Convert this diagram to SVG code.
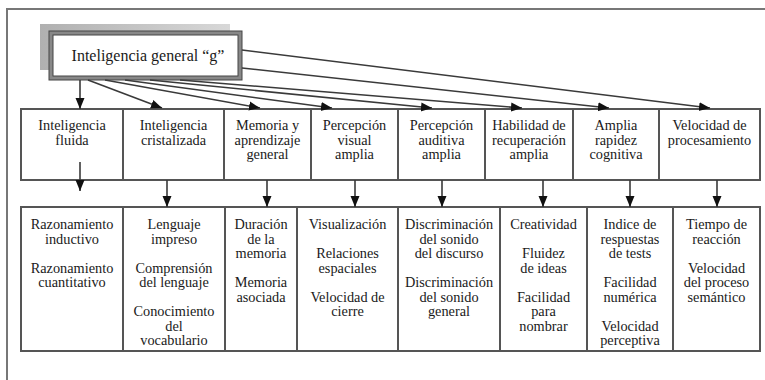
<svg xmlns="http://www.w3.org/2000/svg" width="765" height="380" viewBox="0 0 765 380">
<style>
text{font-family:"Liberation Serif","DejaVu Serif",serif;font-size:14.3px;fill:#1a1a1a;text-anchor:middle}
.g{font-size:16px}
.box{fill:#fff;stroke:#555;stroke-width:2}
.con{stroke:#3a3a3a;stroke-width:1.6;fill:none;marker-end:url(#ah)}
.frame{stroke:#777;stroke-width:2;fill:none}
</style>
<defs>
<marker id="ah" markerUnits="userSpaceOnUse" markerWidth="12" markerHeight="12" viewBox="0 0 12 12" refX="11" refY="6" orient="auto">
<path d="M0,1.5 L11,6 L0,10.5 Z" fill="#111"/>
</marker>
<linearGradient id="sh" x1="0" y1="0" x2="1" y2="0">
<stop offset="0" stop-color="#b0b0b0"/>
<stop offset="1" stop-color="#d8d8d8"/>
</linearGradient>
</defs>
<rect width="765" height="380" fill="#fff"/>
<path class="frame" d="M7,380 V9 H765"/>

<g id="g-node">
<rect x="40" y="24" width="190" height="46" fill="url(#sh)"/>
<rect x="51" y="33" width="189" height="45" fill="#fff" stroke="#888" stroke-width="4"/>
<rect x="49" y="31" width="193" height="49" fill="none" stroke="#444" stroke-width="1"/>
<rect x="53" y="35" width="185" height="41" fill="none" stroke="#444" stroke-width="1"/>
<text class="g" x="148" y="61" font-family="Liberation Serif, serif">Inteligencia general “g”</text>
</g>

<g id="m1"><rect class="box" x="21" y="109" width="102" height="71"/><text x="72" y="130">Inteligencia</text><text x="72" y="144.5">fluida</text></g>
<g id="m2"><rect class="box" x="123" y="109" width="101" height="71"/><text x="173.5" y="130">Inteligencia</text><text x="173.5" y="144.5">cristalizada</text></g>
<g id="m3"><rect class="box" x="224" y="109" width="87" height="71"/><text x="267.5" y="130">Memoria y</text><text x="267.5" y="144.5">aprendizaje</text><text x="267.5" y="159">general</text></g>
<g id="m4"><rect class="box" x="311" y="109" width="87" height="71"/><text x="354.5" y="130">Percepción</text><text x="354.5" y="144.5">visual</text><text x="354.5" y="159">amplia</text></g>
<g id="m5"><rect class="box" x="398" y="109" width="87" height="71"/><text x="441.5" y="130">Percepción</text><text x="441.5" y="144.5">auditiva</text><text x="441.5" y="159">amplia</text></g>
<g id="m6"><rect class="box" x="485" y="109" width="88" height="71"/><text x="529" y="130">Habilidad de</text><text x="529" y="144.5">recuperación</text><text x="529" y="159">amplia</text></g>
<g id="m7"><rect class="box" x="573" y="109" width="86" height="71"/><text x="616" y="130">Amplia</text><text x="616" y="144.5">rapidez</text><text x="616" y="159">cognitiva</text></g>
<g id="m8"><rect class="box" x="659" y="109" width="101" height="71"/><text x="709.5" y="130">Velocidad de</text><text x="709.5" y="144.5">procesamiento</text></g>

<g id="b1"><rect class="box" x="21" y="207" width="102" height="144"/><text x="72" y="229">Razonamiento</text><text x="72" y="243.5">inductivo</text><text x="72" y="272.5">Razonamiento</text><text x="72" y="287">cuantitativo</text></g>
<g id="b2"><rect class="box" x="123" y="207" width="102" height="144"/><text x="174" y="229">Lenguaje</text><text x="174" y="243.5">impreso</text><text x="174" y="272.5">Comprensión</text><text x="174" y="287">del lenguaje</text><text x="174" y="316">Conocimiento</text><text x="174" y="330.5">del</text><text x="174" y="345">vocabulario</text></g>
<g id="b3"><rect class="box" x="225" y="207" width="72" height="144"/><text x="261" y="229">Duración</text><text x="261" y="243.5">de la</text><text x="261" y="258">memoria</text><text x="261" y="287">Memoria</text><text x="261" y="301.5">asociada</text></g>
<g id="b4"><rect class="box" x="297" y="207" width="101" height="144"/><text x="347.5" y="229">Visualización</text><text x="347.5" y="258">Relaciones</text><text x="347.5" y="272.5">espaciales</text><text x="347.5" y="301.5">Velocidad de</text><text x="347.5" y="316">cierre</text></g>
<g id="b5"><rect class="box" x="398" y="207" width="102" height="144"/><text x="449" y="229">Discriminación</text><text x="449" y="243.5">del sonido</text><text x="449" y="258">del discurso</text><text x="449" y="287">Discriminación</text><text x="449" y="301.5">del sonido</text><text x="449" y="316">general</text></g>
<g id="b6"><rect class="box" x="500" y="207" width="87" height="144"/><text x="543.5" y="229">Creatividad</text><text x="543.5" y="258">Fluidez</text><text x="543.5" y="272.5">de ideas</text><text x="543.5" y="301.5">Facilidad</text><text x="543.5" y="316">para</text><text x="543.5" y="330.5">nombrar</text></g>
<g id="b7"><rect class="box" x="587" y="207" width="86" height="144"/><text x="630" y="229">Indice de</text><text x="630" y="243.5">respuestas</text><text x="630" y="258">de tests</text><text x="630" y="287">Facilidad</text><text x="630" y="301.5">numérica</text><text x="630" y="330.5">Velocidad</text><text x="630" y="345">perceptiva</text></g>
<g id="b8"><rect class="box" x="673" y="207" width="87" height="144"/><text x="716.5" y="229">Tiempo de</text><text x="716.5" y="243.5">reacción</text><text x="716.5" y="272.5">Velocidad</text><text x="716.5" y="287">del proceso</text><text x="716.5" y="301.5">semántico</text></g>

<g id="connectors">
<line class="con" x1="80" y1="80" x2="80" y2="109"/>
<line class="con" x1="88" y1="80" x2="162" y2="108"/>
<line class="con" x1="105" y1="80" x2="260" y2="108"/>
<line class="con" x1="125" y1="80" x2="332" y2="108"/>
<line class="con" x1="150" y1="80" x2="432" y2="108"/>
<line class="con" x1="180" y1="80" x2="522" y2="108"/>
<line class="con" x1="242" y1="68" x2="609" y2="108"/>
<line class="con" x1="242" y1="50" x2="710" y2="108"/>
<line class="con" x1="80" y1="162" x2="80" y2="191"/>
<line class="con" x1="167" y1="180" x2="167" y2="207"/>
<line class="con" x1="267" y1="180" x2="267" y2="207"/>
<line class="con" x1="355" y1="180" x2="355" y2="207"/>
<line class="con" x1="442" y1="180" x2="442" y2="207"/>
<line class="con" x1="543" y1="180" x2="543" y2="207"/>
<line class="con" x1="630" y1="180" x2="630" y2="207"/>
<line class="con" x1="717" y1="180" x2="717" y2="207"/>
</g>
</svg>
